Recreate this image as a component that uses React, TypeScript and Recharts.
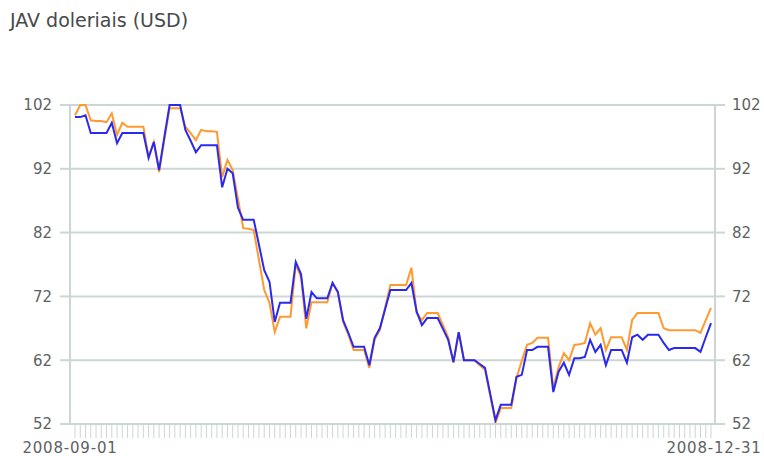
import React from 'react';
import { LineChart, Line, XAxis, YAxis, CartesianGrid } from 'recharts';

// daily values, 2008-09-01 .. 2008-12-31
const orangeSeries = [
  100.4, 102.0, 102.0, 99.6, 99.5, 99.5, 99.3, 100.7, 97.3, 99.2,
  98.6, 98.6, 98.6, 98.6, 93.9, 96.2, 91.5, 96.5, 101.5, 101.5,
  101.5, 98.6, 97.6, 96.5, 98.1, 97.9, 97.9, 97.8, 90.7, 93.4,
  91.8, 87.3, 82.7, 82.6, 82.4, 77.7, 73.0, 71.0, 66.4, 68.8,
  68.8, 68.8, 77.1, 75.0, 67.0, 71.1, 71.1, 71.1, 71.1, 74.1,
  72.7, 68.0, 66.0, 63.6, 63.6, 63.6, 60.8, 65.2, 66.7, 70.3,
  73.8, 73.8, 73.8, 73.8, 76.5, 69.4, 68.3, 69.4, 69.4, 69.4,
  67.5, 65.6, 61.6, 66.4, 62.0, 62.0, 62.0, 61.2, 60.5, 56.4,
  52.2, 54.5, 54.5, 54.5, 59.2, 61.9, 64.4, 64.7, 65.5, 65.5,
  65.5, 57.6, 60.9, 63.1, 62.0, 64.4, 64.5, 64.7, 67.8, 66.0,
  67.0, 63.6, 65.6, 65.6, 65.6, 63.6, 68.3, 69.4, 69.4, 69.4,
  69.4, 69.4, 67.0, 66.7, 66.7, 66.7, 66.7, 66.7, 66.7, 66.3,
  68.3, 70.2,
];

const blueSeries = [
  100.1, 100.1, 100.4, 97.6, 97.6, 97.6, 97.6, 99.2, 96.0, 97.6,
  97.6, 97.6, 97.6, 97.6, 93.7, 96.2, 91.8, 97.0, 102.0, 102.0,
  102.0, 98.1, 96.4, 94.6, 95.7, 95.7, 95.7, 95.7, 89.1, 92.0,
  91.3, 85.9, 84.0, 84.0, 84.0, 80.1, 76.1, 74.3, 68.0, 71.0,
  71.0, 71.0, 77.4, 75.5, 68.5, 72.7, 71.7, 71.7, 71.7, 74.1,
  72.7, 68.3, 66.3, 64.1, 64.1, 64.1, 61.2, 65.5, 67.0, 70.0,
  73.0, 73.0, 73.0, 73.0, 74.1, 69.6, 67.5, 68.6, 68.6, 68.6,
  66.9, 65.2, 61.7, 66.4, 62.0, 62.0, 62.0, 61.4, 60.8, 56.7,
  52.6, 55.0, 55.0, 55.0, 59.4, 59.7, 63.6, 63.6, 64.1, 64.1,
  64.1, 57.0, 60.2, 61.6, 59.7, 62.3, 62.3, 62.5, 65.2, 63.3,
  64.4, 61.2, 63.6, 63.6, 63.6, 61.6, 65.6, 66.0, 65.2, 66.0,
  66.0, 66.0, 64.7, 63.6, 63.9, 63.9, 63.9, 63.9, 63.9, 63.3,
  65.6, 67.8,
];

const yTicks = [52, 62, 72, 82, 92, 102];

// calendar days from the first date
const dates = orangeSeries.map((_, i) =>
  new Date(Date.UTC(2008, 8, 1 + i)).toISOString().slice(0, 10)
);

const data = dates.map((date, i) => ({
  date,
  orange: orangeSeries[i],
  blue: blueSeries[i],
}));

const gridColor = '#cdd5d5';
const labelColor = '#5c6262';

const DateTick = (props: any) => {
  const { x, y, payload, index } = props;
  const last = dates.length - 1;
  if (index !== 0 && index !== last) return <g />;
  return (
    <text
      x={x}
      y={y}
      dx={index === 0 ? -5 : 3}
      dy="0.71em"
      textAnchor="middle"
      fill={labelColor}
      fontSize={15}
      letterSpacing={0.8}
      fontFamily="DejaVu Sans"
    >
      {payload.value}
    </text>
  );
};

const App: React.FC = () => {
  const tickStyle = { fill: labelColor, fontSize: 15, fontFamily: 'DejaVu Sans' };
  return (
    <div
      style={{
        position: 'absolute',
        left: 0,
        top: 0,
        width: 764,
        height: 456,
        background: '#fff',
      }}
    >
      <div
        style={{
          position: 'absolute',
          left: 10,
          top: 9,
          fontFamily: 'DejaVu Sans',
          fontSize: 19,
          color: '#454a4a',
          whiteSpace: 'nowrap',
        }}
      >
        JAV doleriais (USD)
      </div>
      <LineChart
        width={764}
        height={456}
        data={data}
        margin={{ top: 105, right: 0, bottom: 0, left: 0 }}
      >
        <CartesianGrid
          yAxisId="left"
          vertical={false}
          stroke={gridColor}
          strokeWidth={2}
        />
        <XAxis
          dataKey="date"
          interval={0}
          height={32}
          padding={{ left: 5, right: 4 }}
          axisLine={{ stroke: gridColor, strokeWidth: 2 }}
          tickLine={{ stroke: gridColor, strokeWidth: 1 }}
          tickSize={14}
          tickMargin={4}
          tick={<DateTick />}
        />
        <YAxis
          yAxisId="left"
          orientation="left"
          width={70}
          domain={[52, 102]}
          ticks={yTicks}
          interval={0}
          axisLine={{ stroke: gridColor, strokeWidth: 2 }}
          tickLine={{ stroke: gridColor, strokeWidth: 2 }}
          tickSize={10}
          tickMargin={8}
          tick={tickStyle}
        />
        <YAxis
          yAxisId="right"
          orientation="right"
          width={49}
          domain={[52, 102]}
          ticks={yTicks}
          interval={0}
          axisLine={{ stroke: gridColor, strokeWidth: 2 }}
          tickLine={{ stroke: gridColor, strokeWidth: 2 }}
          tickSize={10}
          tickMargin={7}
          tick={tickStyle}
        />
        <Line
          yAxisId="left"
          type="linear"
          dataKey="orange"
          stroke="#ff9a30"
          strokeWidth={2}
          dot={false}
          isAnimationActive={false}
        />
        <Line
          yAxisId="right"
          type="linear"
          dataKey="blue"
          stroke="#2a2aee"
          strokeWidth={2}
          dot={false}
          isAnimationActive={false}
        />
      </LineChart>
    </div>
  );
};

export default App;
